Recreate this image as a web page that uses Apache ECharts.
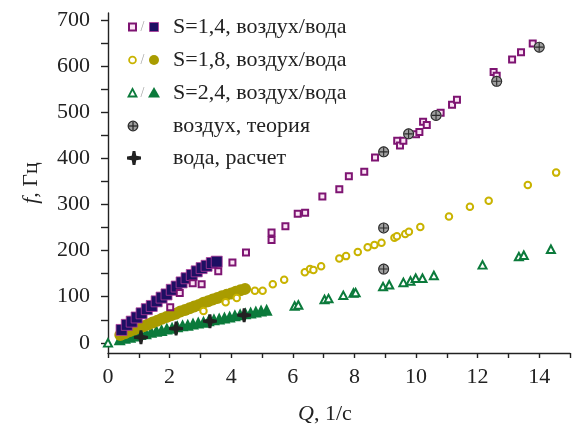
<!DOCTYPE html>
<html>
<head>
<meta charset="utf-8">
<script src="https://cdn.jsdelivr.net/npm/echarts@6/dist/echarts.min.js"></script>
<style>html,body{margin:0;padding:0;background:#fff;}#c{width:574px;height:424px;}</style>
</head>
<body>
<div id="c"></div>
<script>
// ---- data (Q in 1/c, f in Гц) ----
const S14_air = [[2.02,77],[2.33,108],[2.75,129],[3.04,127],[3.58,155],[4.04,174],[4.48,196],[5.31,223],[5.31,239],[5.76,253],[6.16,280],[6.40,282],[6.96,317],[7.51,333],[7.82,361],[8.32,371],[8.67,402],[9.39,438],[9.48,428],[9.59,438],[10.0,452],[10.11,457],[10.23,479],[10.35,472],[10.8,499],[11.17,516],[11.33,527],[12.52,587],[12.62,579],[13.12,614],[13.41,630],[13.79,649]];
const S14_water = [[0.44,28],[0.61,39],[0.77,46],[0.93,55],[1.09,64],[1.26,73],[1.42,80],[1.58,90],[1.74,98],[1.90,105],[2.07,115],[2.23,122],[2.39,131],[2.55,140],[2.72,147],[2.88,155],[3.04,162],[3.20,167],[3.37,173],[3.53,176]];
const S18_air = [[3.10,69],[3.82,88],[4.18,97],[4.77,113],[5.02,113],[5.35,127],[5.72,137],[6.39,153],[6.56,160],[6.67,158],[6.92,166],[7.51,183],[7.73,188],[8.11,197],[8.43,207],[8.65,212],[8.88,217],[9.30,228],[9.38,231],[9.65,236],[9.77,241],[10.14,251],[11.07,274],[11.75,295],[12.36,308],[13.63,342],[14.55,369]];
const S18_water = [[0.40,17],[0.55,21],[0.70,25],[0.85,29],[1.00,33],[1.15,36],[1.30,40],[1.45,44],[1.60,48],[1.75,52],[1.90,56],[2.05,60],[2.20,63],[2.35,68],[2.50,71],[2.65,75],[2.80,79],[2.95,82],[3.10,87],[3.25,90],[3.40,94],[3.55,97],[3.70,101],[3.85,104],[4.00,107],[4.15,111],[4.30,114],[4.45,117]];
const S24_air = [[0.0,0],[6.06,80],[6.18,82],[7.03,94],[7.16,96],[7.64,103],[7.97,108],[8.04,109],[8.93,122],[9.13,126],[9.59,131],[9.82,134],[9.99,140],[10.21,140],[10.58,146],[12.16,169],[13.34,187],[13.50,190],[14.38,203]];
const S24_water = [[0.38,8],[0.55,11],[0.72,13],[0.89,16],[1.06,19],[1.23,21],[1.40,24],[1.57,26],[1.74,28],[1.91,31],[2.08,33],[2.25,36],[2.42,38],[2.59,39],[2.76,42],[2.93,44],[3.10,46],[3.27,49],[3.44,51],[3.61,53],[3.78,55],[3.95,57],[4.12,60],[4.29,62],[4.46,64],[4.63,66],[4.80,68],[4.97,70],[5.15,72]];
const AIR_THEORY = [[8.95,160],[8.95,249],[8.95,414],[9.76,453],[10.65,493],[12.62,567],[14.0,641]];
const WATER_CALC = [[1.07,12],[2.21,31],[3.31,47],[4.42,60]];

const LEGEND_TEXT = ['S=1,4, воздух/вода','S=1,8, воздух/вода','S=2,4, воздух/вода','воздух, теория','вода, расчет'];
const X_LABELS = [0,2,4,6,8,10,12,14];
const Y_LABELS = [0,100,200,300,400,500,600,700];
const Y_TICKS = [0,50,100,150,200,250,300,350,400,450,500,550,600,650,700];
const X_NAME = '{i|Q}, 1/c';
const Y_NAME = '{i|f}, Гц';

// ---- styles ----
const FONT = 'Liberation Serif';
const FS = 22;
const TXT = '#222';
const CROSS_PATH = 'path://M4,0 L6,0 L6.6,3.4 L10,4 L10,6 L6.6,6.6 L6,10 L4,10 L3.4,6.6 L0,6 L0,4 L3.4,3.4 Z';
const OPLUS_PATH = 'path://M10,0 A10,10 0 1,1 9.99,0 Z M10,2 A8,8 0 1,0 10.01,2 Z M9,2.5 L11,2.5 L11,17.5 L9,17.5 Z M2.5,9 L17.5,9 L17.5,11 L2.5,11 Z';

const C_MAG_B = '#7e1472', C_MAG_F = '#fbe4f5';
const C_NAVY = '#1d0f63';
const C_YEL = '#c9b300', C_OLIVE = '#a99c00';
const C_GREEN = '#0b7a3b';

const chart = echarts.init(document.getElementById('c'), null, {renderer:'canvas'});

// legend drawn as graphic elements
const rows = [27, 60, 93, 126, 158];
const gx = 173;
const g = [];
LEGEND_TEXT.forEach((t,i)=>{
  g.push({type:'text', x: gx, y: rows[i], style:{text:t, fontFamily:FONT, fontSize:FS, fill:TXT, verticalAlign:'middle', align:'left'}});
});
g.push({type:'rect', shape:{x:129,y:rows[0]-3.5,width:7,height:7}, style:{fill:C_MAG_F, stroke:C_MAG_B, lineWidth:2}});
g.push({type:'rect', shape:{x:149.5,y:rows[0]-4.5,width:9,height:9}, style:{fill:C_NAVY, stroke:'#b03a9a', lineWidth:0.8}});
g.push({type:'circle', shape:{cx:132.5,cy:rows[1],r:3.4}, style:{fill:'#fff', stroke:C_YEL, lineWidth:1.8}});
g.push({type:'circle', shape:{cx:154,cy:rows[1],r:5}, style:{fill:C_OLIVE}});
g.push({type:'polygon', shape:{points:[[132.5,rows[2]-4],[136.5,rows[2]+3.5],[128.5,rows[2]+3.5]]}, style:{fill:'#fff', stroke:C_GREEN, lineWidth:1.8}});
g.push({type:'polygon', shape:{points:[[154,rows[2]-6],[160,rows[2]+4.5],[148,rows[2]+4.5]]}, style:{fill:C_GREEN}});
[0,1,2].forEach(i=>g.push({type:'text', x:140.5, y:rows[i], style:{text:'/', fontFamily:FONT, fontSize:14, fill:'#aaa', verticalAlign:'middle'}}));
// ⊕
g.push({type:'circle', shape:{cx:133,cy:rows[3],r:4.8}, style:{fill:'#a0a0a0', stroke:'#2b2b2b', lineWidth:1.3}});
g.push({type:'line', shape:{x1:129,y1:rows[3],x2:137,y2:rows[3]}, style:{stroke:'#2b2b2b', lineWidth:1.3}});
g.push({type:'line', shape:{x1:133,y1:rows[3]-4,x2:133,y2:rows[3]+4}, style:{stroke:'#2b2b2b', lineWidth:1.3}});
// ✚
(function(){
  const cx=134, cy=rows[4], s=1.4;
  const pts=[[-1,-5],[1,-5],[1.6,-1.6],[5,-1],[5,1],[1.6,1.6],[1,5],[-1,5],[-1.6,1.6],[-5,1],[-5,-1],[-1.6,-1.6]].map(p=>[cx+p[0]*s, cy+p[1]*s]);
  g.push({type:'polygon', shape:{points:pts}, style:{fill:'#222'}});
})();

const option = {
  animation:false,
  backgroundColor:'#fff',
  grid:{left:108, right:4, top:13, bottom:71, containLabel:false, outerBoundsMode:'none'},
  xAxis:{
    type:'value', min:0, max:15, interval:1,
    name: X_NAME, nameLocation:'middle', nameGap:50,
    nameTextStyle:{fontFamily:FONT, fontSize:FS, color:TXT, padding:[0,28,0,0],
      rich:{i:{fontFamily:FONT, fontSize:FS, fontStyle:'italic', color:TXT}}},
    axisLine:{show:true, onZero:false, lineStyle:{color:TXT, width:1.4}},
    axisTick:{show:true, length:5, inside:false, lineStyle:{color:TXT, width:1.4}},
    axisLabel:{fontFamily:FONT, fontSize:FS, color:TXT, margin:13,
      formatter:v=>X_LABELS.includes(v)?String(v):''},
    splitLine:{show:false}
  },
  yAxis:{
    type:'value', min:-22, max:715,
    name: Y_NAME, nameLocation:'middle', nameGap:66, nameRotate:90,
    nameTextStyle:{fontFamily:FONT, fontSize:FS, color:TXT,
      rich:{i:{fontFamily:FONT, fontSize:FS, fontStyle:'italic', color:TXT}}},
    axisLine:{show:true, onZero:false, lineStyle:{color:TXT, width:1.4}},
    axisTick:{show:true, length:7, inside:false, customValues:Y_TICKS, lineStyle:{color:TXT, width:1.4}},
    axisLabel:{fontFamily:FONT, fontSize:FS, color:TXT, margin:18, customValues:Y_LABELS},
    splitLine:{show:false}
  },
  graphic: g,
  series:[
    {type:'scatter', name:'S=2,4 вода', data:S24_water, symbol:'triangle', symbolSize:[12,12],
      itemStyle:{color:C_GREEN, opacity:1}},
    {type:'scatter', name:'S=1,8 вода', data:S18_water, symbol:'circle', symbolSize:12,
      itemStyle:{color:C_OLIVE, opacity:1}},
    {type:'scatter', name:'S=1,4 вода', data:S14_water, symbol:'rect', symbolSize:11,
      itemStyle:{color:C_NAVY, borderColor:'#b03a9a', borderWidth:0.8, opacity:1}},
    {type:'scatter', name:'S=1,4 воздух', data:S14_air, symbol:'rect', symbolSize:6,
      itemStyle:{color:C_MAG_F, borderColor:C_MAG_B, borderWidth:2, opacity:1}},
    {type:'scatter', name:'S=1,8 воздух', data:S18_air, symbol:'circle', symbolSize:6.5,
      itemStyle:{color:'#fff', borderColor:C_YEL, borderWidth:2, opacity:1}},
    {type:'scatter', name:'S=2,4 воздух', data:S24_air, symbol:'triangle', symbolSize:[8,7.5],
      itemStyle:{color:'#fff', borderColor:C_GREEN, borderWidth:2, opacity:1}},
    {type:'scatter', name:'воздух, теория', data:AIR_THEORY, symbol:'circle', symbolSize:11,
      itemStyle:{color:'#a0a0a0', opacity:1}},
    {type:'scatter', name:'воздух, теория (контур)', data:AIR_THEORY, symbol:OPLUS_PATH, symbolSize:11, symbolKeepAspect:true,
      itemStyle:{color:'#2b2b2b', opacity:1}},
    {type:'scatter', name:'вода, расчет', data:WATER_CALC, symbol:CROSS_PATH, symbolSize:14, symbolKeepAspect:true,
      itemStyle:{color:'#222', opacity:1}}
  ]
};
chart.setOption(option);
</script>
</body>
</html>
